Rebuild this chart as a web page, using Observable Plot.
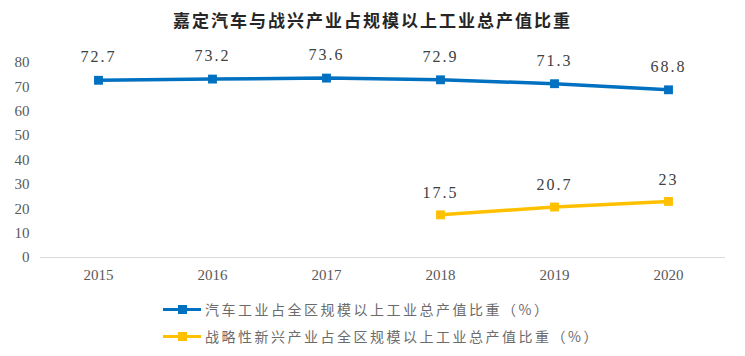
<!DOCTYPE html>
<html><head><meta charset="utf-8">
<script src="https://cdn.jsdelivr.net/npm/d3@7"></script>
<script src="https://cdn.jsdelivr.net/npm/@observablehq/plot@0.6"></script>
<style>
body{margin:0;background:#fff;width:745px;height:356px;overflow:hidden;}
#title{height:35px;line-height:40px;text-align:center;font-family:"Noto Sans CJK SC";font-weight:bold;font-size:17px;letter-spacing:2px;color:#262626;}
.leg{position:absolute;left:163px;display:flex;align-items:center;font-family:"Noto Sans CJK SC";font-size:14px;letter-spacing:2.5px;color:#6b6b6b;}
.sw{position:relative;width:38px;height:14px;margin-right:4px;}
.sw .ln{position:absolute;left:0;right:0;top:5.5px;height:3.5px;}
.sw .sq{position:absolute;left:14.5px;top:2.5px;width:9px;height:9px;}
</style></head>
<body>
<div id="title">嘉定汽车与战兴产业占规模以上工业总产值比重</div>
<div id="chart"></div>
<div id="legend"></div>
<script>
const years = ["2015","2016","2017","2018","2019","2020"];
const autoValues = [72.7, 73.2, 73.6, 72.9, 71.3, 68.8];
const newYears = ["2018","2019","2020"];
const newValues = [17.5, 20.7, 23];
const yTicks = [0,10,20,30,40,50,60,70,80];
const seriesNames = ["汽车工业占全区规模以上工业总产值比重（%）","战略性新兴产业占全区规模以上工业总产值比重（%）"];
const colors = ["#0070C0","#FFC000"];

const auto = years.map((y,i)=>({year:y,value:autoValues[i]}));
const nw = newYears.map((y,i)=>({year:y,value:newValues[i]}));

const serif = "'Liberation Serif', 'DejaVu Serif', serif";
const plot = Plot.plot({
  width:745, height:252,
  marginTop:27, marginBottom:30, marginLeft:40, marginRight:20,
  style:{fontFamily:serif, fontSize:"15px", color:"#595959", background:"#fff"},
  x:{type:"point", domain:years, padding:0.5, label:null, tickSize:0, tickPadding:12},
  y:{domain:[0,80], ticks:yTicks, label:null, tickSize:0, tickPadding:11},
  marks:[
    Plot.ruleY([0],{stroke:"#d9d9d9", strokeWidth:1}),
    Plot.line(auto,{x:"year", y:"value", stroke:colors[0], strokeWidth:3.5}),
    Plot.dot(auto,{x:"year", y:"value", symbol:"square", r:5, fill:colors[0]}),
    Plot.text(auto,{x:"year", y:"value", text:d=>String(d.value), dy:-23, fontSize:16, fontFamily:serif, fill:"#404040"}),
    Plot.line(nw,{x:"year", y:"value", stroke:colors[1], strokeWidth:3.5}),
    Plot.dot(nw,{x:"year", y:"value", symbol:"square", r:5, fill:colors[1]}),
    Plot.text(nw,{x:"year", y:"value", text:d=>String(d.value), dy:-22, fontSize:16, fontFamily:serif, fill:"#404040"})
  ]
});
plot.querySelectorAll('[aria-label="text"] text').forEach(t=>t.setAttribute("letter-spacing","2"));
document.getElementById("chart").appendChild(plot);

const leg = document.getElementById("legend");
seriesNames.forEach((n,i)=>{
  const d = document.createElement("div");
  d.className="leg";
  d.style.top = (i===0 ? 299 : 326) + "px";
  d.innerHTML = `<div class="sw"><div class="ln" style="background:${colors[i]}"></div><div class="sq" style="background:${colors[i]}"></div></div><span>${n}</span>`;
  leg.appendChild(d);
});
</script>
</body></html>
